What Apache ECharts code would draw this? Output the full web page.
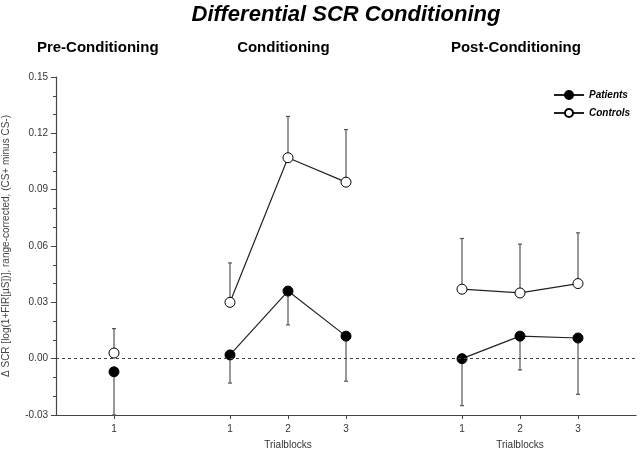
<!DOCTYPE html>
<html>
<head>
<meta charset="utf-8">
<script src="https://cdn.jsdelivr.net/npm/echarts@6/dist/echarts.min.js"></script>
<style>
  html, body { margin: 0; padding: 0; background: #fff; }
  #content { width: 640px; height: 453px; }
</style>
</head>
<body>
<div id="content"></div>
<script>
// positions of the trial blocks on the x scale, with gaps between phases
const xPos = [0, 2, 3, 4, 6, 7, 8];
const phase = [0, 1, 1, 1, 2, 2, 2];
const tickLabels = ['1', '1', '2', '3', '1', '2', '3'];
const phaseNames = ['Pre-Conditioning', 'Conditioning', 'Post-Conditioning'];
const phaseHeadX = [-0.28, 2.92, 6.93];
const axisNameX = [3, 7];

const patients = [-0.007, 0.002, 0.036, 0.012, 0.000, 0.012, 0.011];
const patientsErr = [0.023, 0.015, 0.018, 0.024, 0.025, 0.018, 0.030];
const controls = [0.003, 0.030, 0.107, 0.094, 0.037, 0.035, 0.040];
const controlsErr = [0.013, 0.021, 0.022, 0.028, 0.027, 0.026, 0.027];

const FONT = '"Liberation Sans", Arial, sans-serif';

// line data broken between phases
function lineData(vals) {
  const out = [];
  vals.forEach((v, i) => {
    if (i > 0 && phase[i] !== phase[i - 1]) out.push([xPos[i] - 1, '-']);
    out.push([xPos[i], v]);
  });
  return out;
}

// one-sided error bars: dir -1 down, +1 up
function errSeries(vals, errs, dir) {
  return {
    type: 'custom',
    silent: true,
    z: 1,
    data: vals.map((v, i) => [xPos[i], v, v + dir * errs[i]]),
    renderItem(params, api) {
      const p0 = api.coord([api.value(0), api.value(1)]);
      const p1 = api.coord([api.value(0), api.value(2)]);
      const style = { stroke: '#555', lineWidth: 1.2 };
      return {
        type: 'group',
        children: [
          { type: 'line', shape: { x1: p0[0], y1: p0[1], x2: p1[0], y2: p1[1] }, style },
          { type: 'line', shape: { x1: p1[0] - 2, y1: p1[1], x2: p1[0] + 2, y2: p1[1] }, style }
        ]
      };
    }
  };
}

const chart = echarts.init(document.getElementById('content'));
const option = {
  animation: false,
  textStyle: { fontFamily: FONT },
  legend: {
    orient: 'vertical',
    left: 548,
    top: 85,
    itemWidth: 30,
    itemHeight: 10,
    itemGap: 8,
    data: ['Patients', 'Controls'],
    textStyle: { fontFamily: FONT, fontSize: 10, fontWeight: 'bold', fontStyle: 'italic', color: '#000' }
  },
  grid: { left: 56, right: 4, top: 77, bottom: 38, containLabel: false, outerBoundsMode: 'none' },
  xAxis: {
    type: 'value',
    min: -1,
    max: 9,
    splitLine: { show: false },
    axisLine: { onZero: false, lineStyle: { color: '#444', width: 1.2 } },
    axisTick: { customValues: xPos, length: 4, lineStyle: { color: '#444' } },
    axisLabel: {
      customValues: xPos,
      formatter: v => tickLabels[xPos.indexOf(v)] || '',
      color: '#333',
      fontSize: 10,
      margin: 9
    }
  },
  yAxis: {
    type: 'value',
    min: -0.03,
    max: 0.15,
    interval: 0.03,
    name: 'Δ SCR [log(1+FIR[µS])], range-corrected, (CS+ minus CS-)',
    nameLocation: 'middle',
    nameGap: 45,
    nameTextStyle: { fontFamily: FONT, fontSize: 10, color: '#444' },
    splitLine: { show: false },
    axisLine: { show: true, onZero: false, lineStyle: { color: '#444', width: 1.2 } },
    axisTick: { show: true, length: 5, lineStyle: { color: '#444' } },
    minorTick: { show: true, splitNumber: 3, length: 3, lineStyle: { color: '#444' } },
    axisLabel: {
      formatter: v => (Math.abs(v) < 1e-9 ? 0 : v).toFixed(2),
      color: '#333',
      fontSize: 10,
      margin: 8
    }
  },
  series: [
    errSeries(patients, patientsErr, -1),
    errSeries(controls, controlsErr, 1),
    {
      name: 'Patients',
      type: 'line',
      z: 3,
      data: lineData(patients),
      symbol: 'circle',
      symbolSize: 10,
      itemStyle: { color: '#000', borderColor: '#000', borderWidth: 1 },
      lineStyle: { color: '#222', width: 1.2 },
      markLine: {
        silent: true,
        symbol: 'none',
        label: { show: false },
        lineStyle: { color: '#444', type: [3, 3], width: 1.2 },
        data: [{ yAxis: 0 }]
      }
    },
    {
      name: 'Controls',
      type: 'line',
      z: 3,
      data: lineData(controls),
      symbol: 'circle',
      symbolSize: 10,
      itemStyle: { color: '#fff', borderColor: '#000', borderWidth: 1 },
      lineStyle: { color: '#222', width: 1.2 }
    }
  ]
};
chart.setOption(option);

// headings and x-axis names placed from the axis scale
const toPx = x => chart.convertToPixel({ gridIndex: 0 }, [x, 0])[0];
const graphics = [{
  type: 'text',
  x: toPx(4),
  y: 4,
  style: { text: 'Differential SCR Conditioning', font: 'italic bold 22px ' + FONT, fill: '#000', textAlign: 'center' }
}];
phaseNames.forEach((name, i) => {
  graphics.push({
    type: 'text',
    x: toPx(phaseHeadX[i]),
    y: 40,
    style: { text: name, font: 'bold 15px ' + FONT, fill: '#000', textAlign: 'center' }
  });
});
axisNameX.forEach(x => {
  graphics.push({
    type: 'text',
    x: toPx(x),
    y: 440,
    style: { text: 'Trialblocks', font: '10px ' + FONT, fill: '#333', textAlign: 'center' }
  });
});
chart.setOption({ graphic: graphics });
</script>
</body>
</html>
